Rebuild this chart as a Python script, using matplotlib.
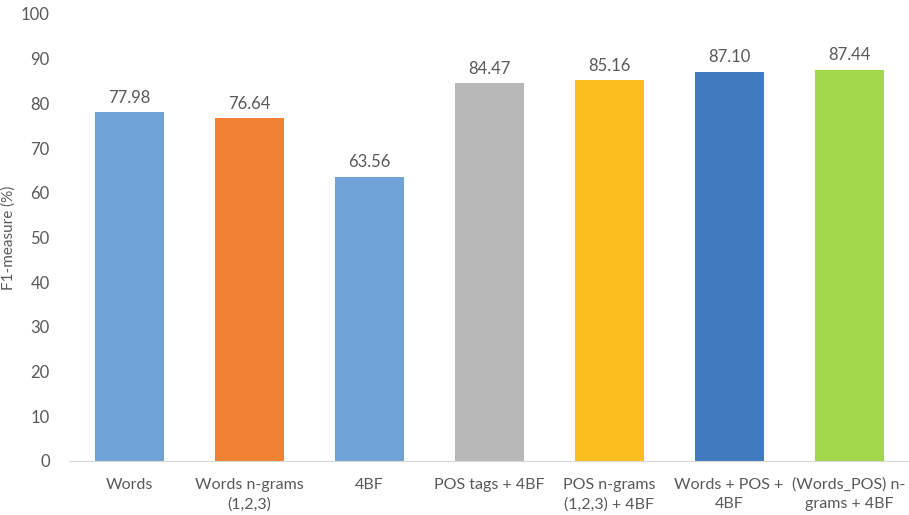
import matplotlib.pyplot as plt

# Datos del grafico
categorias = ["Words", "Words n-grams\n(1,2,3)", "4BF", "POS tags + 4BF",
              "POS n-grams\n(1,2,3) + 4BF", "Words + POS +\n4BF", "(Words_POS) n-\ngrams + 4BF"]
valores = [77.98, 76.64, 63.56, 84.47, 85.16, 87.10, 87.44]
colores = ["#6FA3D5", "#F08234", "#6FA3D5", "#B8B8B8", "#FBBC1E", "#3F7BBE", "#A2D64B"]

plt.rcParams['font.family'] = ['Lato', 'DejaVu Sans']
gris = "#595959"

fig = plt.figure(figsize=(9.09, 5.15), dpi=100)
ax = fig.add_axes([0.076, 0.105, 0.924, 0.868])

x = range(len(categorias))
barras = ax.bar(x, valores, width=0.575, color=colores, zorder=2)

# Etiquetas de valor sobre cada barra
for b, v in zip(barras, valores):
    ax.text(b.get_x() + b.get_width() / 2, v + 1.5, f"{v:.2f}",
            ha='center', va='bottom', fontsize=12, color=gris)

ax.set_xlim(-0.5, len(categorias) - 0.5)
ax.set_ylim(0, 100)
ax.set_yticks(range(0, 101, 10))
ax.set_xticks(list(x))
ax.set_xticklabels(categorias, fontsize=11.5, color=gris, linespacing=1.5)
ax.tick_params(axis='y', labelsize=12, labelcolor=gris, length=0, pad=14)
ax.tick_params(axis='x', length=0, pad=12)
ax.set_ylabel("F1-measure (%)", fontsize=11, color=gris)
ax.yaxis.set_label_coords(-0.063, 0.5)

for lado in ['top', 'right', 'left']:
    ax.spines[lado].set_visible(False)
ax.spines['bottom'].set_color("#D9D9D9")

fig.savefig("out.png", dpi=100)
